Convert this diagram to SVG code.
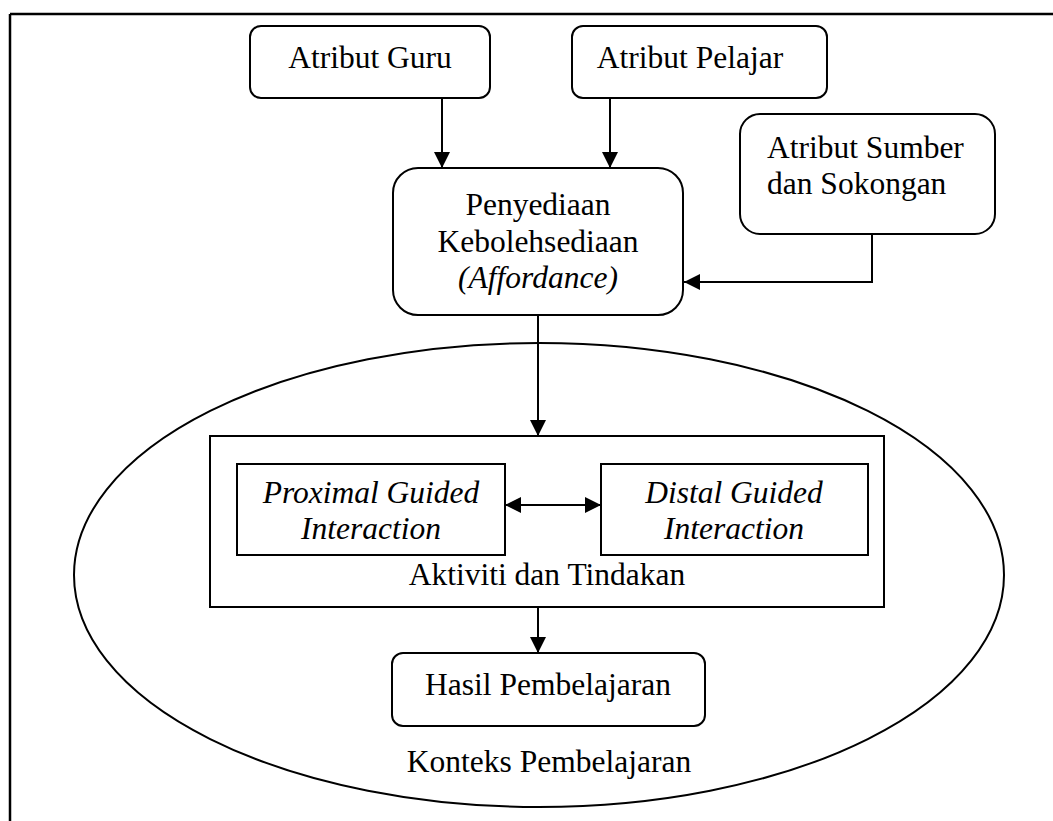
<svg xmlns="http://www.w3.org/2000/svg" width="1053" height="821" viewBox="0 0 1053 821">
<style>
  .box{fill:#fff;stroke:#000;stroke-width:2}
  .t{font-family:"Liberation Serif","Times New Roman",serif;font-size:31.5px;fill:#000}
  .c{text-anchor:middle}
  .i{font-style:italic}
  .ln{fill:none;stroke:#000;stroke-width:2}
</style>
<defs>
  <marker id="ah" markerUnits="userSpaceOnUse" markerWidth="16" markerHeight="16" viewBox="0 0 16 16" refX="16" refY="8" orient="auto-start-reverse">
    <path d="M0,0 L16,8 L0,16 Z" fill="#000"/>
  </marker>
</defs>
<rect width="1053" height="821" fill="#fff"/>
<g id="frame">
  <line x1="10" y1="14" x2="1053" y2="14" stroke="#000" stroke-width="2.5"/>
  <line x1="10" y1="14" x2="10" y2="821" stroke="#000" stroke-width="2.5"/>
</g>
<g id="konteks">
  <ellipse cx="539" cy="575" rx="465" ry="232" class="ln"/>
  <text class="t c" x="549" y="772">Konteks Pembelajaran</text>
</g>
<g id="aktiviti">
  <rect x="210" y="436" width="674" height="171" class="box" fill="none"/>
  <text class="t c" x="547" y="585">Aktiviti dan Tindakan</text>
</g>
<g id="guru">
  <rect x="250" y="26" width="240" height="72" rx="11" class="box"/>
  <text class="t c" x="370" y="68">Atribut Guru</text>
</g>
<g id="pelajar">
  <rect x="572" y="26" width="255" height="72" rx="11" class="box"/>
  <text class="t c" x="690" y="68">Atribut Pelajar</text>
</g>
<g id="sumber">
  <rect x="740" y="114" width="255" height="120" rx="20" class="box"/>
  <text class="t" x="767" y="158">Atribut Sumber</text>
  <text class="t" x="767" y="194">dan Sokongan</text>
</g>
<g id="penyediaan">
  <rect x="393" y="168" width="290" height="147" rx="25" class="box"/>
  <text class="t c" x="538" y="215">Penyediaan</text>
  <text class="t c" x="538" y="252">Kebolehsediaan</text>
  <text class="t c i" x="538" y="288">(Affordance)</text>
</g>
<g id="proximal">
  <rect x="237" y="464" width="268" height="91" class="box"/>
  <text class="t c i" x="371" y="503">Proximal Guided</text>
  <text class="t c i" x="371" y="539">Interaction</text>
</g>
<g id="distal">
  <rect x="601" y="464" width="267" height="91" class="box"/>
  <text class="t c i" x="734" y="503">Distal Guided</text>
  <text class="t c i" x="734" y="539">Interaction</text>
</g>
<g id="hasil">
  <rect x="392" y="653" width="313" height="73" rx="11" class="box"/>
  <text class="t c" x="548" y="695">Hasil Pembelajaran</text>
</g>
<g id="connectors">
  <line x1="442" y1="98" x2="442" y2="168" class="ln" marker-end="url(#ah)"/>
  <line x1="610" y1="98" x2="610" y2="168" class="ln" marker-end="url(#ah)"/>
  <polyline points="872,234 872,282 684,282" class="ln" marker-end="url(#ah)"/>
  <line x1="538" y1="315" x2="538" y2="436" class="ln" marker-end="url(#ah)"/>
  <line x1="505" y1="505" x2="601" y2="505" class="ln" marker-start="url(#ah)" marker-end="url(#ah)"/>
  <line x1="538" y1="607" x2="538" y2="653" class="ln" marker-end="url(#ah)"/>
</g>
</svg>
